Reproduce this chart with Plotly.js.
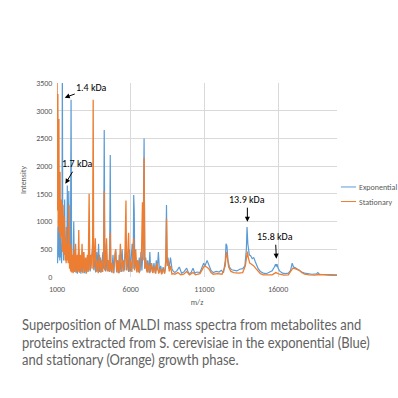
<!DOCTYPE html>
<html><head><meta charset="utf-8">
<script src="https://cdn.plot.ly/plotly-3.0.1.min.js"></script>
<style>
html,body{margin:0;padding:0;background:#fff;}
#wrap{position:relative;width:398px;height:398px;overflow:hidden;}
#chart{position:absolute;left:0;top:0;width:398px;height:398px;}
#cap{position:absolute;left:22px;top:316px;font-family:Lato,sans-serif;font-size:14.5px;line-height:17.6px;color:#626262;white-space:nowrap;transform:scaleX(0.895);transform-origin:0 0;}
</style></head>
<body>
<div id="wrap"><div id="chart"></div>
<div id="cap">Superposition of MALDI mass spectra from metabolites and<br>proteins extracted from S. cerevisiae in the exponential (Blue)<br>and stationary (Orange) growth phase.</div></div>
<script>
// Exponential (blue) spectrum: m/z and intensity
const expMz = [1000,1020,1040,1060,1080,1110,1130,1160,1190,1220,1250,1280,1310,1340,1364,1390,1420,1450,1480,1520,1545,1570,1600,1640,1670,1700,1730,1760,1800,1830,1870,1910,1955,1990,2030,2080,2136,2180,2230,2280,2330,2380,2420,2477,2520,2570,2620,2680,2740,2800,2860,2920,2980,3040,3100,3180,3250,3320,3400,3455,3500,3560,3620,3700,3760,3820,3880,3940,4000,4060,4120,4160,4205,4250,4300,4350,4400,4450,4520,4580,4614,4650,4720,4800,4860,4920,4980,5040,5100,5160,5220,5280,5350,5420,5480,5540,5600,5680,5740,5800,5860,5920,5980,6040,6100,6170,6205,6240,6280,6340,6400,6460,6520,6580,6640,6700,6760,6840,6910,6960,7020,7080,7160,7240,7300,7360,7420,7500,7580,7660,7740,7800,7880,7960,8040,8120,8200,8300,8380,8430,8470,8530,8600,8700,8800,8900,9000,9150,9300,9450,9600,9800,9950,10100,10230,10350,10500,10700,10850,10950,11050,11180,11300,11450,11600,11800,12000,12150,12300,12420,12470,12530,12600,12700,12850,13000,13200,13400,13600,13750,13850,13895,13950,14050,14150,14250,14350,14450,14550,14650,14800,15000,15200,15400,15600,15750,15830,15880,15930,16000,16100,16300,16500,16700,16850,16960,17050,17150,17300,17450,17600,17800,18000,18300,18600,18700,18800,19100,19400,19700,20000];
const expInt = [300,650,250,900,400,1200,350,800,300,1000,350,600,250,700,3900,500,800,300,900,1400,400,700,300,900,350,1650,400,600,1550,300,500,250,3200,350,350,100,1000,120,400,80,300,60,250,500,80,350,60,350,80,450,70,300,60,350,90,450,100,300,500,900,120,400,80,450,100,600,90,350,80,300,450,150,2650,150,100,600,120,300,100,600,2200,150,80,400,70,350,500,90,300,70,400,90,350,500,100,300,120,700,120,400,90,500,100,350,600,150,1480,1200,150,350,100,300,90,350,100,450,120,500,2500,150,350,100,300,80,450,90,250,80,250,70,300,120,450,80,200,60,180,70,200,1300,250,350,150,350,150,100,80,120,180,70,90,160,60,80,160,70,90,80,180,250,200,300,220,120,80,100,90,120,80,300,600,560,300,180,130,120,110,140,150,200,500,900,600,400,380,330,350,280,200,150,100,70,60,80,110,180,230,190,230,160,110,70,60,70,120,250,180,170,140,110,90,70,60,50,55,80,50,45,50,40,40];

// Stationary (orange) spectrum: m/z and intensity
const staMz = [1000,1015,1030,1045,1060,1080,1095,1110,1130,1150,1170,1190,1210,1230,1250,1270,1290,1310,1330,1350,1370,1390,1410,1430,1450,1470,1490,1510,1530,1560,1590,1620,1650,1680,1720,1760,1790,1818,1850,1880,1920,1960,2000,2050,2100,2150,2200,2260,2320,2380,2430,2477,2520,2580,2640,2700,2760,2820,2880,2940,3000,3060,3120,3180,3230,3300,3380,3420,3455,3490,3550,3600,3660,3720,3800,3880,3950,4020,4100,4160,4205,4240,4300,4360,4420,4500,4560,4614,4660,4740,4820,4900,4980,5060,5140,5220,5300,5380,5460,5540,5620,5680,5720,5780,5860,5920,6000,6080,6160,6205,6260,6340,6420,6500,6580,6660,6740,6800,6850,6910,6960,7040,7120,7200,7300,7400,7500,7600,7700,7800,7900,8000,8100,8200,8300,8380,8430,8480,8540,8620,8700,8800,8900,9000,9200,9400,9600,9800,10000,10230,10400,10700,10900,11000,11150,11300,11450,11600,11900,12200,12420,12480,12560,12650,12800,13000,13300,13600,13780,13880,13920,13980,14080,14200,14350,14500,14650,14800,15000,15300,15600,15850,15950,16100,16400,16700,16900,17000,17150,17300,17450,17600,17800,18100,18500,18800,19200,19600,20000];
const staInt = [3900,2800,3600,1200,3300,900,2900,1500,2850,800,2200,1100,1900,700,1600,900,1400,600,1200,500,1000,450,1300,500,900,400,1100,350,800,300,700,250,900,300,600,250,700,1300,150,500,100,600,80,400,70,500,90,600,80,400,100,850,80,400,90,600,70,450,90,350,70,400,100,1500,120,400,150,700,3200,150,350,700,90,300,70,400,80,300,90,400,1550,120,300,700,100,300,90,800,100,250,70,300,500,80,300,70,600,90,300,100,500,1380,120,300,800,100,300,90,400,700,120,500,80,300,70,350,500,1350,300,2150,150,300,80,250,70,250,70,200,60,250,60,150,50,150,60,300,1050,200,300,100,200,50,60,50,80,40,50,100,40,80,40,60,150,200,180,150,80,50,60,50,200,450,350,180,100,80,70,80,200,400,460,350,250,230,200,150,100,60,40,35,40,80,70,50,35,40,120,160,150,140,120,80,50,40,35,45,35,30,30];

const xTicks = [1000, 6000, 11000, 16000];
const seriesNames = ['Exponential', 'Stationary'];
const seriesColors = ['#5B9BD5', '#ED7D31'];

const traces = [
  {x: expMz, y: expInt, type: 'scatter', mode: 'lines', name: seriesNames[0],
   line: {color: seriesColors[0], width: 1.2}, showlegend: false},
  {x: staMz, y: staInt, type: 'scatter', mode: 'lines', name: seriesNames[1],
   line: {color: seriesColors[1], width: 1.3}, showlegend: false}
];

const tickFont = {family: 'Calibri, Carlito, "Liberation Sans", sans-serif', size: 8, color: '#595959'};
const annFont = {family: 'Calibri, Carlito, "Liberation Sans", sans-serif', size: 10, color: '#000'};

function arrowAnn(text, x, y, ax, ay) {
  return {text: text, x: x, y: y, xref: 'x', yref: 'y', ax: ax, ay: ay,
    showarrow: true, arrowhead: 2, arrowsize: 1, arrowwidth: 1, arrowcolor: '#000', font: annFont};
}

const layout = {
  width: 398, height: 398,
  margin: {l: 57, r: 61, t: 83, b: 121, pad: 0},
  paper_bgcolor: '#fff', plot_bgcolor: '#fff',
  showlegend: false,
  xaxis: {range: [1000, 20000], tickvals: xTicks, ticktext: xTicks.map(String),
    showgrid: true, gridcolor: '#d9d9d9', gridwidth: 1, zeroline: false, showline: false,
    ticks: 'outside', ticklen: 4, tickcolor: 'rgba(0,0,0,0)', tickfont: tickFont,
    title: {text: 'm/z', font: {family: tickFont.family, size: 8, color: '#595959'}, standoff: 6}},
  yaxis: {range: [0, 3500], dtick: 500, showgrid: true, gridcolor: '#d9d9d9', gridwidth: 1,
    zeroline: false, showline: false, ticks: 'outside', ticklen: 2, tickcolor: 'rgba(0,0,0,0)', tickfont: tickFont,
    title: {text: 'Intensity', font: {family: tickFont.family, size: 8, color: '#595959'}, standoff: 8}},
  annotations: [
    arrowAnn('1.4 kDa', 1524, 3235, 27, -10),
    arrowAnn('1.7 kDa', 1571, 1683, 12, -20),
    arrowAnn('13.9 kDa', 13918, 998, 0, -22),
    arrowAnn('15.8 kDa', 15886, 330, -1, -22),
    {text: seriesNames[0], xref: 'paper', yref: 'paper', x: 1.07, y: 0.464, xanchor: 'left', yanchor: 'middle',
     showarrow: false, font: tickFont},
    {text: seriesNames[1], xref: 'paper', yref: 'paper', x: 1.07, y: 0.389, xanchor: 'left', yanchor: 'middle',
     showarrow: false, font: tickFont}
  ],
  shapes: [
    {type: 'line', xref: 'paper', yref: 'paper', x0: 1.014, x1: 1.068, y0: 0.464, y1: 0.464,
     line: {color: seriesColors[0], width: 1}},
    {type: 'line', xref: 'paper', yref: 'paper', x0: 1.014, x1: 1.068, y0: 0.389, y1: 0.389,
     line: {color: seriesColors[1], width: 1}}
  ]
};

Plotly.newPlot('chart', traces, layout, {displayModeBar: false, staticPlot: true});
</script>
</body></html>
